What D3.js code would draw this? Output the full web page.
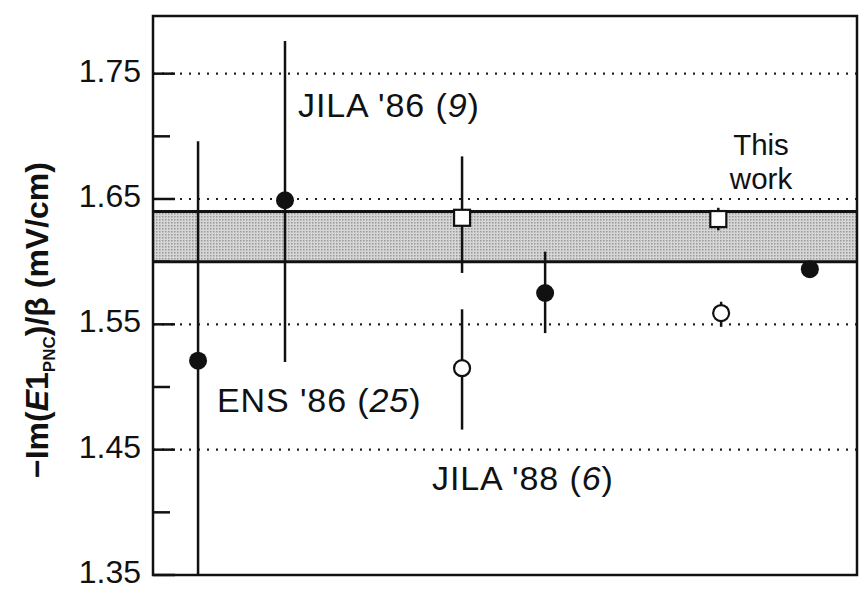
<!DOCTYPE html>
<html>
<head>
<meta charset="utf-8">
<script src="https://cdn.jsdelivr.net/npm/d3@7"></script>
<style>
  body { margin: 0; background: #fff; }
  text { font-family: "Liberation Sans", Arial, Helvetica, sans-serif; fill: #111; }
</style>
</head>
<body>
<script>
// measurements, x is just the slot along the (unlabelled) horizontal axis
var slots   = [6.4, 18.75, 43.9, 43.9, 55.7, 80.3, 80.7, 93.3];
var values  = [1.521, 1.649, 1.635, 1.515, 1.575, 1.634, 1.559, 1.594];
var errLow  = [1.346, 1.520, 1.591, 1.466, 1.543, 1.625, 1.548, null];
var errHigh = [1.696, 1.776, 1.684, 1.562, 1.608, 1.643, 1.568, null];
var markers = ["filled", "filled", "square", "open", "filled", "square", "open", "filled"];

// shaded band (this work)
var bandLow = 1.600, bandHigh = 1.640;

var majorTicks = [1.35, 1.45, 1.55, 1.65, 1.75];
var minorTicks = [1.40, 1.50, 1.60, 1.70];
var tickLabels = ["1.35", "1.45", "1.55", "1.65", "1.75"];

var W = 867, H = 602;
var margin = {top: 16, right: 10, bottom: 27, left: 153};

var x = d3.scaleLinear().domain([0, 100]).range([margin.left, W - margin.right]);
var y = d3.scaleLinear().domain([1.35, 1.796]).range([H - margin.bottom, margin.top]);

var svg = d3.select("body").append("svg")
    .attr("width", W)
    .attr("height", H);

var defs = svg.append("defs");
defs.append("clipPath").attr("id", "plot")
  .append("rect")
    .attr("x", x(0)).attr("y", y.range()[1])
    .attr("width", x(100) - x(0)).attr("height", y.range()[0] - y.range()[1]);

// stipple for the band
var pat = defs.append("pattern").attr("id", "stipple")
    .attr("width", 3).attr("height", 3).attr("patternUnits", "userSpaceOnUse");
pat.append("rect").attr("width", 3).attr("height", 3).attr("fill", "#d6d6d6");
pat.append("rect").attr("width", 1.5).attr("height", 1.5).attr("fill", "#999");

var plot = svg.append("g").attr("clip-path", "url(#plot)");

plot.append("rect")
    .attr("x", x(0)).attr("width", x(100) - x(0))
    .attr("y", y(bandHigh)).attr("height", y(bandLow) - y(bandHigh))
    .attr("fill", "url(#stipple)");

// dotted grid at the labelled ticks
plot.selectAll(".grid")
    .data(majorTicks.slice(1))
  .enter().append("line")
    .attr("class", "grid")
    .attr("x1", x(0)).attr("x2", x(100))
    .attr("y1", d => y(d)).attr("y2", d => y(d))
    .attr("stroke", "#222")
    .attr("stroke-width", 2.2)
    .attr("stroke-dasharray", "2,7");

// band edges
plot.selectAll(".edge")
    .data([bandLow, bandHigh])
  .enter().append("line")
    .attr("x1", x(0)).attr("x2", x(100))
    .attr("y1", d => y(d)).attr("y2", d => y(d))
    .attr("stroke", "#111")
    .attr("stroke-width", 3);

// tick marks
svg.selectAll(".major")
    .data(majorTicks)
  .enter().append("line")
    .attr("x1", x(0)).attr("x2", x(0) + 22)
    .attr("y1", d => y(d)).attr("y2", d => y(d))
    .attr("stroke", "#111").attr("stroke-width", 2.5);

svg.selectAll(".minor")
    .data(minorTicks)
  .enter().append("line")
    .attr("x1", x(0)).attr("x2", x(0) + 17)
    .attr("y1", d => y(d)).attr("y2", d => y(d))
    .attr("stroke", "#111").attr("stroke-width", 2.5);

svg.selectAll(".tlabel")
    .data(majorTicks)
  .enter().append("text")
    .attr("x", x(0) - 12)
    .attr("y", d => y(d) + 8)
    .attr("text-anchor", "end")
    .style("font-size", "32px")
    .text((d, i) => tickLabels[i]);

var pts = slots.map(function(s, i) {
    return {x: s, v: values[i], lo: errLow[i], hi: errHigh[i], m: markers[i]};
});

// error bars
plot.selectAll(".err")
    .data(pts.filter(d => d.lo != null))
  .enter().append("line")
    .attr("x1", d => x(d.x)).attr("x2", d => x(d.x))
    .attr("y1", d => y(d.lo)).attr("y2", d => y(d.hi))
    .attr("stroke", "#111")
    .attr("stroke-width", 2.5);

// markers
plot.selectAll(".circ")
    .data(pts.filter(d => d.m != "square"))
  .enter().append("circle")
    .attr("cx", d => x(d.x)).attr("cy", d => y(d.v))
    .attr("r", d => d.m == "filled" ? 9 : 8)
    .attr("fill", d => d.m == "filled" ? "#111" : "#fff")
    .attr("stroke", "#111")
    .attr("stroke-width", d => d.m == "filled" ? 0 : 2.2);

plot.selectAll(".sq")
    .data(pts.filter(d => d.m == "square"))
  .enter().append("rect")
    .attr("x", d => x(d.x) - 8).attr("y", d => y(d.v) - 8)
    .attr("width", 16).attr("height", 16)
    .attr("fill", "#fff")
    .attr("stroke", "#111")
    .attr("stroke-width", 2.2);

// frame
svg.append("rect")
    .attr("x", x(0)).attr("y", y.range()[1])
    .attr("width", x(100) - x(0)).attr("height", y.range()[0] - y.range()[1])
    .attr("fill", "none")
    .attr("stroke", "#111")
    .attr("stroke-width", 2.5);

// annotations
function note(px, py, main, ref) {
    var t = svg.append("text").attr("x", px).attr("y", py)
        .style("font-size", "34px").style("letter-spacing", "0.9px");
    t.append("tspan").text(main + " (");
    t.append("tspan").style("font-style", "italic").text(ref);
    t.append("tspan").text(")");
}
note(298, 117, "JILA '86", "9");
note(217, 412, "ENS '86", "25");
note(432, 490, "JILA '88", "6");

var tw = svg.append("text").attr("text-anchor", "middle").style("font-size", "29.5px");
tw.append("tspan").attr("x", 761).attr("y", 155).text("This");
tw.append("tspan").attr("x", 761).attr("y", 189).text("work");

// y axis title
var yl = svg.append("text")
    .attr("transform", "translate(48," + 320 + ") rotate(-90)")
    .attr("text-anchor", "middle")
    .style("font-size", "32px")
    .style("font-weight", "bold");
yl.append("tspan").text("\u2212Im(");
yl.append("tspan").style("font-style", "italic").text("E");
yl.append("tspan").text("1");
yl.append("tspan").attr("dy", 7).style("font-size", "17px").text("PNC");
yl.append("tspan").attr("dy", -7).text(")/\u03b2 (mV/cm)");
</script>
</body>
</html>
